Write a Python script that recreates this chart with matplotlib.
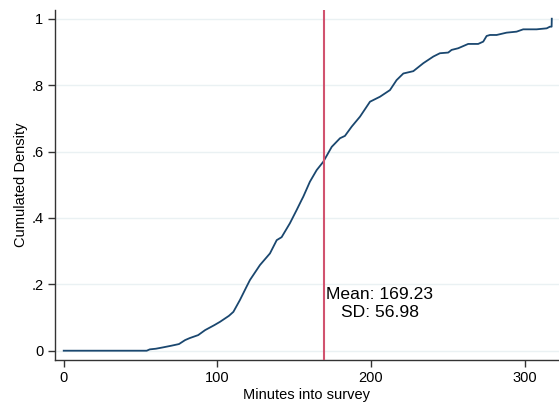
import matplotlib
matplotlib.use("Agg")
import matplotlib.pyplot as plt

minutes = [0, 54, 56, 60, 64.6, 70, 75, 79, 82, 87.5, 92, 98, 101.7, 107.5, 110.4,
           114.7, 119, 121.2, 127.7, 134.2, 138.6, 141.8, 147.2, 151.6, 154.8, 155.9,
           160.2, 164.6, 168.9, 174.4, 179.8, 183, 187.4, 192.8, 199.3, 205.8, 212.3,
           216.6, 221, 227.5, 234, 240.5, 244.8, 250.2, 252.4, 256.7, 263.2, 269.7,
           273, 275.2, 277.4, 281.7, 288.2, 294.7, 299, 307.7, 314.3, 316.4, 317.5, 317.6]
cum_density = [0, 0, 0.004, 0.006, 0.01, 0.015, 0.02, 0.032, 0.038, 0.047, 0.062, 0.077,
               0.087, 0.105, 0.117, 0.153, 0.193, 0.213, 0.258, 0.293, 0.333, 0.342, 0.384,
               0.424, 0.454, 0.464, 0.509, 0.544, 0.569, 0.614, 0.640, 0.647, 0.675, 0.705,
               0.750, 0.765, 0.785, 0.815, 0.835, 0.842, 0.866, 0.886, 0.896, 0.898, 0.906,
               0.911, 0.924, 0.924, 0.931, 0.948, 0.951, 0.951, 0.958, 0.961, 0.968, 0.968,
               0.971, 0.976, 0.976, 1.0]

mean_val = 169.23
sd_val = 56.98

x_ticks = [0, 100, 200, 300]
x_tick_labels = ["0", "100", "200", "300"]
y_ticks = [0, 0.2, 0.4, 0.6, 0.8, 1.0]
y_tick_labels = ["0", ".2", ".4", ".6", ".8", "1"]

plt.rcParams['font.family'] = ['Liberation Sans', 'DejaVu Sans']

fig = plt.figure(figsize=(5.59, 4.03), dpi=100)
ax = fig.add_axes([0.0975, 0.1067, 0.9025, 0.8683])

ax.set_xlim(-6.0, 322.3)
ax.set_ylim(-0.028, 1.026)

for yv in y_ticks:
    ax.axhline(yv, color='#eaf1f3', lw=1.0, zorder=0)

ax.plot(minutes, cum_density, color='#1a476f', lw=1.3, zorder=3)
ax.axvline(mean_val, color='#d1536f', lw=1.5, zorder=4)

ax.text(205.8, 0.156, f"Mean: {mean_val:.2f}", ha='center', va='baseline', fontsize=12.6, color='black')
ax.text(205.8, 0.102, f"SD: {sd_val:.2f}", ha='center', va='baseline', fontsize=12.6, color='black')

ax.set_xticks(x_ticks)
ax.set_xticklabels(x_tick_labels)
ax.set_yticks(y_ticks)
ax.set_yticklabels(y_tick_labels)
ax.tick_params(axis='both', direction='out', length=5, width=1, color='#333333',
               labelsize=10.5, pad=3)

for s in ['top', 'right']:
    ax.spines[s].set_visible(False)
for s in ['left', 'bottom']:
    ax.spines[s].set_color('#333333')
    ax.spines[s].set_linewidth(1.0)

ax.set_xlabel("Minutes into survey", fontsize=10.5, labelpad=2)
ax.set_ylabel("Cumulated Density", fontsize=10.5, labelpad=2)

fig.savefig("out.png", dpi=100, facecolor='white')
